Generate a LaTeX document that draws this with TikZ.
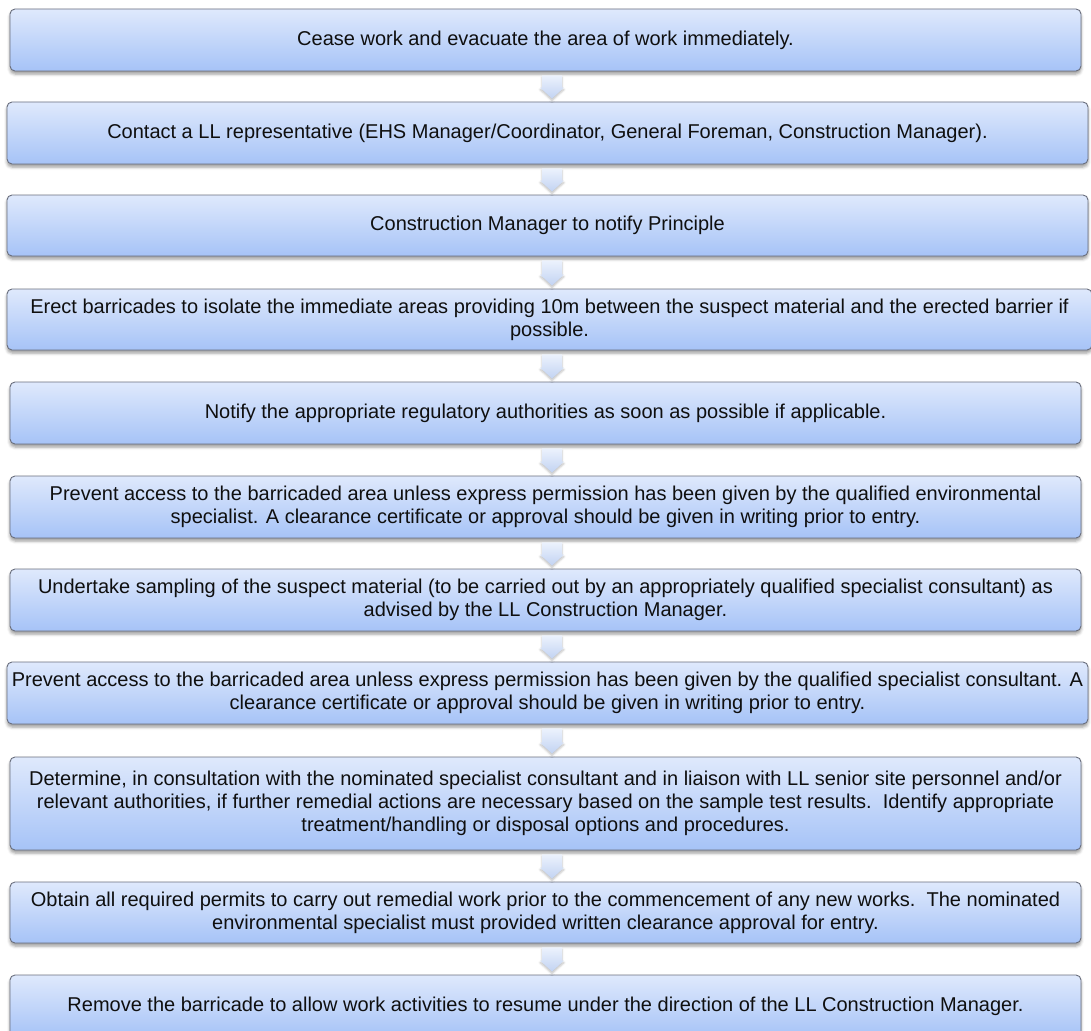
\documentclass[tikz,border=0pt]{standalone}
\usepackage{fontspec}
\setmainfont{Liberation Sans}
\usetikzlibrary{calc,shadows.blur}
\definecolor{boxtop}{RGB}{223,233,252}
\definecolor{boxbot}{RGB}{166,195,247}
\definecolor{boxline}{RGB}{105,110,125}
\definecolor{arrtop}{RGB}{236,242,253}
\definecolor{arrbot}{RGB}{194,211,242}
\definecolor{txt}{RGB}{15,15,15}
\tikzset{
  stepbox/.style={draw=boxline, line width=0.9pt, rounded corners=5pt,
    top color=boxtop, bottom color=boxbot,
    blur shadow={shadow xshift=0pt, shadow yshift=-3pt, shadow blur radius=3pt, shadow opacity=40},
    align=center, inner sep=2pt, font=\fontsize{20}{23}\selectfont, text=txt},
  arrowshape/.style={top color=arrtop, bottom color=arrbot,
    blur shadow={shadow xshift=0pt, shadow yshift=-2pt, shadow blur radius=2pt, shadow opacity=25}},
}
\newcommand\flowarrow[2]{%
  \path[arrowshape] ($(#1.south -| ax)+(-10pt,-4pt)$) -- ($(#1.south -| ax)+(10pt,-4pt)$)
    -- ($(#2.north -| ax)+(10pt,14pt)$) -- ($(#2.north -| ax)+(12pt,14pt)$)
    -- ($(#2.north -| ax)+(0pt,3pt)$) -- ($(#2.north -| ax)+(-12pt,14pt)$)
    -- ($(#2.north -| ax)+(-10pt,14pt)$) -- cycle;}
\begin{document}
\begin{tikzpicture}[x=1pt,y=1pt]
\useasboundingbox (0,0) rectangle (1091,-1030);
\coordinate (ax) at (552,0);
\node[stepbox, minimum width=1071pt, minimum height=62pt] (b1) at (545.5,-40) {Cease work and evacuate the area of work immediately.};
\node[stepbox, minimum width=1081pt, minimum height=62pt] (b2) at (547.5,-133) {Contact a LL representative (EHS Manager/Coordinator, General Foreman, Construction Manager).};
\node[stepbox, minimum width=1081pt, minimum height=61pt] (b3) at (547.5,-225.5) {Construction Manager to notify Principle};
\node[stepbox, minimum width=1085pt, minimum height=61pt] (b4) at (549.5,-319.5) {Erect barricades to isolate the immediate areas providing 10m between the suspect material and the erected barrier if\\possible.};
\node[stepbox, minimum width=1071pt, minimum height=62pt] (b5) at (545.5,-413) {Notify the appropriate regulatory authorities as soon as possible if applicable.};
\node[stepbox, minimum width=1071pt, minimum height=62pt] (b6) at (545.5,-507) {Prevent access to the barricaded area unless express permission has been given by the qualified environmental\\specialist. A clearance certificate or approval should be given in writing prior to entry.};
\node[stepbox, minimum width=1071pt, minimum height=62pt] (b7) at (545.5,-600) {Undertake sampling of the suspect material (to be carried out by an appropriately qualified specialist consultant) as\\advised by the LL Construction Manager.};
\node[stepbox, minimum width=1081pt, minimum height=62pt] (b8) at (547.5,-693) {Prevent access to the barricaded area unless express permission has been given by the qualified specialist consultant. A\\clearance certificate or approval should be given in writing prior to entry.};
\node[stepbox, minimum width=1071pt, minimum height=93pt] (b9) at (545.5,-803.5) {Determine, in consultation with the nominated specialist consultant and in liaison with LL senior site personnel and/or\\relevant authorities, if further remedial actions are necessary based on the sample test results.\ \ Identify appropriate\\treatment/handling or disposal options and procedures.};
\node[stepbox, minimum width=1071pt, minimum height=61pt] (b10) at (545.5,-912.5) {Obtain all required permits to carry out remedial work prior to the commencement of any new works.\ \ The nominated\\environmental specialist must provided written clearance approval for entry.};
\node[stepbox, minimum width=1071pt, minimum height=62pt] (b11) at (545.5,-1006) {Remove the barricade to allow work activities to resume under the direction of the LL Construction Manager.};
\flowarrow{b1}{b2}
\flowarrow{b2}{b3}
\flowarrow{b3}{b4}
\flowarrow{b4}{b5}
\flowarrow{b5}{b6}
\flowarrow{b6}{b7}
\flowarrow{b7}{b8}
\flowarrow{b8}{b9}
\flowarrow{b9}{b10}
\flowarrow{b10}{b11}
\end{tikzpicture}
\end{document}
